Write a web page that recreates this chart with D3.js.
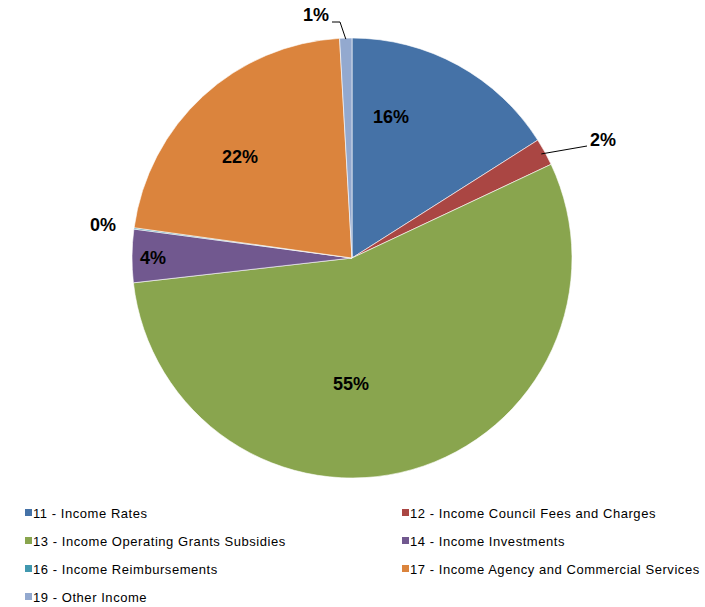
<!DOCTYPE html>
<html><head><meta charset="utf-8">
<script src="https://cdn.jsdelivr.net/npm/d3@7"></script>
<style>html,body{margin:0;padding:0;background:#fff;}</style>
</head><body>
<svg id="c" width="705" height="607"></svg>
<script>
const categories = ["11 - Income Rates","12 - Income Council Fees and Charges","13 - Income Operating Grants Subsidies","14 - Income Investments","16 - Income Reimbursements","17 - Income Agency and Commercial Services","19 - Other Income"];
const values = [16.0, 2.0, 55.2, 3.9, 0.1, 21.9, 0.9];
const labels = ["16%","2%","55%","4%","0%","22%","1%"];
const colors = ["#4572A7","#AA4643","#89A54E","#71588F","#4198AF","#DB843D","#93A9CF"];
// label placement (offsets from pie centre) – layout only
const labelOffsets = [[39,-141],[251,-118],[-1,126],[-199,0],[-249,-33],[-112,-101],[-36,-243]];

const svg = d3.select("#c");
const cx = 352, cy = 258, R = 220;
const pie = d3.pie().sort(null).value(d => d)(values);
const arc = d3.arc().innerRadius(0).outerRadius(R);
const g = svg.append("g").attr("transform", `translate(${cx},${cy})`);
g.selectAll("path").data(pie).join("path")
  .attr("d", arc).attr("fill", (d,i) => colors[i])
  .attr("stroke", "#fff").attr("stroke-width", 0.6);

// leader lines for small slices
const line = d3.line();
const p2 = d3.arc().innerRadius(R-4).outerRadius(R-4).centroid(pie[1]);
g.append("path").attr("d", line([[p2[0],p2[1]],[235,-112]]))
  .attr("stroke","#000").attr("fill","none").attr("stroke-width",1);
const p7 = d3.arc().innerRadius(R-1).outerRadius(R-1).centroid(pie[6]);
g.append("path").attr("d", line([[p7[0],p7[1]],[-12,-236],[-20,-236]]))
  .attr("stroke","#000").attr("fill","none").attr("stroke-width",1);

g.selectAll("text.lbl").data(pie).join("text").attr("class","lbl")
  .attr("x",(d,i)=>labelOffsets[i][0]).attr("y",(d,i)=>labelOffsets[i][1])
  .attr("text-anchor","middle").attr("dominant-baseline","central")
  .attr("font-family","Liberation Sans, Arial, sans-serif")
  .attr("font-weight","bold").attr("font-size",18).attr("fill","#000")
  .text((d,i)=>labels[i]);

// legend
const lg = svg.append("g");
const items = lg.selectAll("g").data(categories).join("g")
  .attr("transform",(d,i)=>`translate(${i%2===0?25:402},${513 + Math.floor(i/2)*28})`);
items.append("rect").attr("x",0).attr("y",-4).attr("width",7).attr("height",7)
  .attr("fill",(d,i)=>colors[i]);
items.append("text").attr("x",8).attr("y",0).attr("dominant-baseline","central")
  .attr("font-family","Liberation Sans, Arial, sans-serif").attr("font-size",13)
  .attr("letter-spacing","0.55px")
  .attr("fill","#000").text(d=>d);
</script>
</body></html>
